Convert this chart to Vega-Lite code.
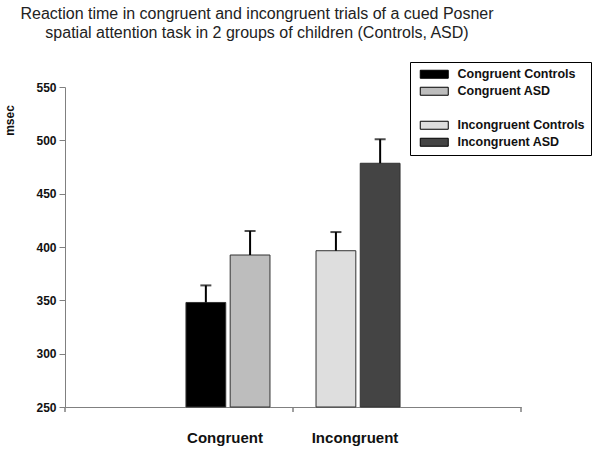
{
  "$schema": "https://vega.github.io/schema/vega-lite/v6.json",
  "width": 456,
  "height": 320,
  "autosize": {"type": "none"},
  "padding": {"left": 65, "top": 87, "right": 79, "bottom": 43},
  "background": "white",
  "title": {
    "text": ["Reaction time in congruent and incongruent trials of a cued Posner", "spatial attention task in 2 groups of children (Controls, ASD)"],
    "anchor": "middle",
    "frame": "group",
    "dx": -36,
    "dy": -17,
    "font": "Liberation Sans",
    "fontSize": 16,
    "fontWeight": "normal",
    "color": "#222222",
    "lineHeight": 19
  },
  "config": {
    "view": {"stroke": null},
    "font": "Liberation Sans"
  },
  "data": {
    "values": [
      {"condition": "Congruent", "group": "Controls", "series": "Congruent Controls", "msec": 348, "upper": 364},
      {"condition": "Congruent", "group": "ASD", "series": "Congruent  ASD", "msec": 392.5, "upper": 415},
      {"condition": "Incongruent", "group": "Controls", "series": "Incongruent Controls", "msec": 396.5, "upper": 414},
      {"condition": "Incongruent", "group": "ASD", "series": "Incongruent ASD", "msec": 478.5, "upper": 501}
    ]
  },
  "resolve": {"scale": {"x": "independent"}},
  "layer": [
    {
      "mark": {"type": "bar", "stroke": "#333333", "strokeWidth": 1},
      "encoding": {
        "x": {
          "field": "condition", "type": "nominal", "sort": ["Congruent", "Incongruent"],
          "scale": {"domain": ["Congruent", "Incongruent"], "paddingInner": 0.354, "paddingOuter": 0.93},
          "axis": {"title": null, "labelAngle": 0, "ticks": false, "domainColor": "#808080", "labelFont": "Liberation Sans", "labelFontSize": 15, "labelFontWeight": "bold", "labelColor": "#111111", "labelPadding": 23, "labelBaseline": "top", "labelOffset": -3}
        },
        "xOffset": {
          "field": "group", "type": "nominal",
          "scale": {"domain": ["Controls", "ASD"], "paddingInner": 0.1, "paddingOuter": 0}
        },
        "y": {
          "field": "msec", "type": "quantitative",
          "scale": {"domain": [250, 550], "zero": false, "nice": false},
          "axis": {
            "title": "msec", "values": [250, 300, 350, 400, 450, 500, 550],
            "grid": false, "domainColor": "#808080", "tickColor": "#808080", "tickSize": 6,
            "labelFont": "Liberation Sans", "labelFontSize": 12, "labelFontWeight": "bold", "labelColor": "#111111", "labelPadding": 3,
            "titleFont": "Liberation Sans", "titleFontSize": 12, "titleFontWeight": "bold", "titleColor": "#111111",
            "titleAngle": 270, "titleAlign": "center", "titleBaseline": "middle", "titleX": -56, "titleY": 33
          }
        },
        "y2": {"datum": 250},
        "color": {
          "field": "series", "type": "nominal",
          "scale": {
            "domain": ["Congruent Controls", "Congruent  ASD", " ", "Incongruent Controls", "Incongruent ASD"],
            "range": ["#000000", "#bdbdbd", "#ffffff", "#dedede", "#444444"]
          },
          "legend": {
            "title": null, "orient": "none", "legendX": 345, "legendY": -25,
            "padding": 6, "strokeColor": "#000000", "fillColor": "#ffffff",
            "symbolType": "M-3.5,-1H3.5V1H-3.5Z", "symbolSize": 64,
            "symbolStrokeColor": "#000000", "symbolStrokeWidth": 1,
            "labelFont": "Liberation Sans", "labelFontSize": 12.5, "labelFontWeight": "bold", "labelColor": "#111111",
            "labelLimit": 200, "rowPadding": 4, "symbolOffset": 12, "labelOffset": 17,
            "encode": {"symbols": {"update": {"opacity": {"signal": "datum.value === ' ' ? 0 : 1"}}}}
          }
        }
      }
    },
    {
      "mark": {"type": "rule", "color": "#000000", "strokeWidth": 2},
      "encoding": {
        "x": {"field": "condition", "type": "nominal", "scale": {"domain": ["Congruent", "Incongruent"], "paddingInner": 0.354, "paddingOuter": 0.93}, "axis": null},
        "xOffset": {"field": "group", "type": "nominal", "scale": {"domain": ["Controls", "ASD"], "paddingInner": 0.1, "paddingOuter": 0}},
        "y": {"field": "msec", "type": "quantitative"},
        "y2": {"field": "upper"}
      }
    },
    {
      "mark": {"type": "tick", "color": "#000000", "thickness": 2, "size": 11},
      "encoding": {
        "x": {"field": "condition", "type": "nominal", "scale": {"domain": ["Congruent", "Incongruent"], "paddingInner": 0.354, "paddingOuter": 0.93}, "axis": null},
        "xOffset": {"field": "group", "type": "nominal", "scale": {"domain": ["Controls", "ASD"], "paddingInner": 0.1, "paddingOuter": 0}},
        "y": {"field": "upper", "type": "quantitative"}
      }
    },
    {
      "mark": {"type": "rule", "color": "#808080", "strokeWidth": 1},
      "encoding": {
        "x": {"field": "condition", "type": "nominal", "bandPosition": 0, "scale": {"domain": ["Congruent", "Incongruent"], "paddingInner": 0, "paddingOuter": 0}, "axis": null},
        "y": {"datum": 250, "type": "quantitative"},
        "y2": {"datum": 245.3}
      }
    },
    {
      "transform": [{"filter": "datum.condition === 'Incongruent'"}],
      "mark": {"type": "rule", "color": "#808080", "strokeWidth": 1},
      "encoding": {
        "x": {"field": "condition", "type": "nominal", "bandPosition": 1, "scale": {"domain": ["Congruent", "Incongruent"], "paddingInner": 0, "paddingOuter": 0}, "axis": null},
        "y": {"datum": 250, "type": "quantitative"},
        "y2": {"datum": 245.3}
      }
    }
  ]
}
